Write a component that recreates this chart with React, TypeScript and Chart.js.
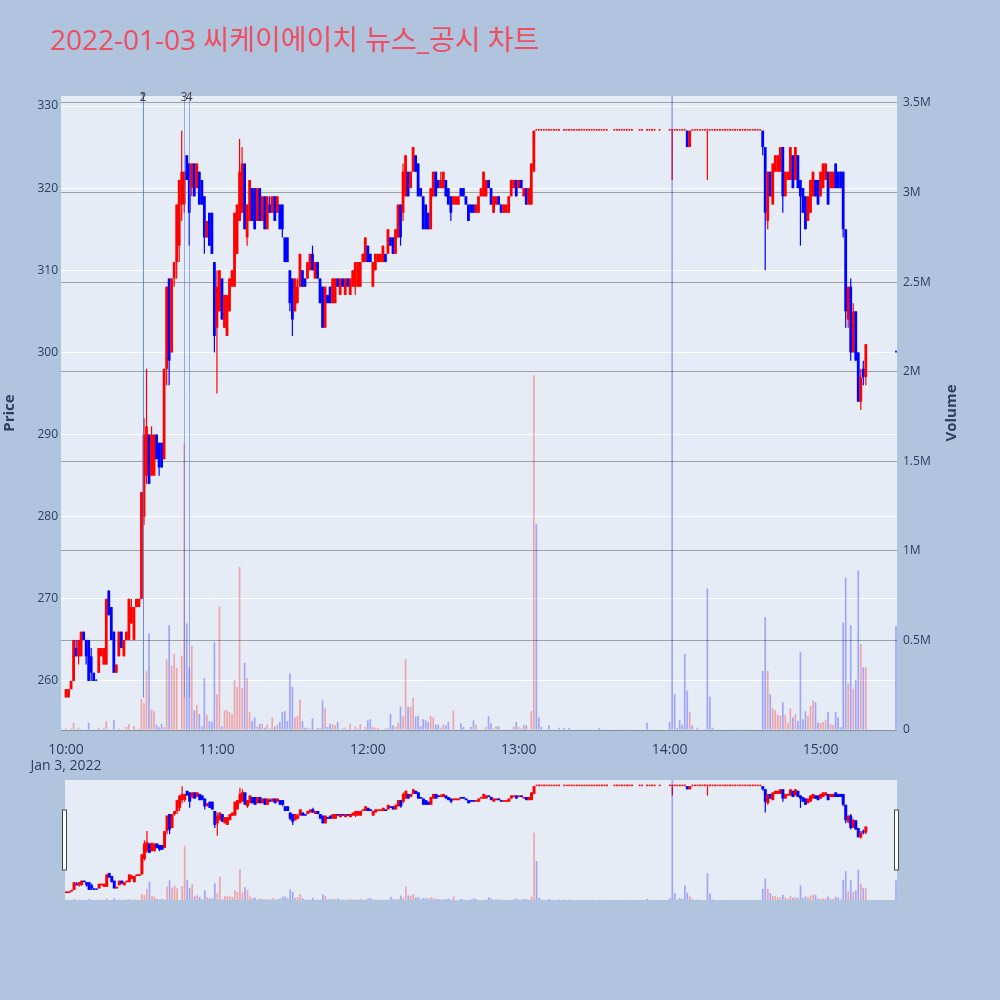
import { useEffect, useRef } from "react"
import { Chart, registerables } from "chart.js"

Chart.register(...registerables)

const FONT = '"Open Sans", "Noto Sans CJK KR", sans-serif'
const TEXT = "#2a3f5f"
const PLOT_BG = "#e5ecf6"
const PAGE_BG = "#b0c4de"
const UP = "#ff0000"
const DOWN = "#0000ff"
const VOL_UP = "rgba(255,0,0,0.3)"
const VOL_DOWN = "rgba(0,0,255,0.3)"

const title = "2022-01-03 씨케이에이치 뉴스_공시 차트"

// minutes after 10:00
const minutes = [
  0, 1, 2, 3, 4, 5, 6, 7, 8, 9,
  10, 11, 12, 13, 14, 15, 16, 17, 18, 19,
  20, 21, 22, 23, 24, 25, 26, 27, 28, 29,
  30, 31, 32, 33, 34, 35, 36, 37, 38, 39,
  40, 41, 42, 43, 44, 45, 46, 47, 48, 49,
  50, 51, 52, 53, 54, 55, 56, 57, 58, 59,
  60, 61, 62, 63, 64, 65, 66, 67, 68, 69,
  70, 71, 72, 73, 74, 75, 76, 77, 78, 79,
  80, 81, 82, 83, 84, 85, 86, 87, 88, 89,
  90, 91, 92, 93, 94, 95, 96, 97, 98, 99,
  100, 101, 102, 103, 104, 105, 106, 107, 108, 109,
  110, 111, 112, 113, 114, 115, 116, 117, 118, 119,
  120, 121, 122, 123, 124, 125, 126, 127, 128, 129,
  130, 131, 132, 133, 134, 135, 136, 137, 138, 139,
  140, 141, 142, 143, 144, 145, 146, 147, 148, 149,
  150, 151, 152, 153, 154, 155, 156, 157, 158, 159,
  160, 161, 162, 163, 164, 165, 166, 167, 168, 169,
  170, 171, 172, 173, 174, 175, 176, 177, 178, 179,
  180, 181, 182, 183, 184, 185, 186,
  // upper limit
  187, 188, 189, 190, 191, 192, 193, 194, 195, 196,
  198, 199, 200, 201, 202, 203, 204, 205, 206, 207,
  208, 209, 210, 211, 212, 213, 214, 215,
  218, 219, 220, 221, 222, 223, 224, 225,
  228, 229, 231, 232, 233, 234, 236,
  240, 241, 242, 243, 244, 245, 246, 247, 248, 249,
  250, 251, 252, 253, 254, 255, 256, 257, 258, 259,
  260, 261, 262, 263, 264, 265, 266, 267, 268, 269,
  270, 271, 272, 273, 274, 275, 276,
  // afternoon sell-off
  277, 278, 279, 280, 281, 282, 283, 284, 285, 286,
  287, 288, 289, 290, 291, 292, 293, 294, 295, 296,
  297, 298, 299, 300, 301, 302, 303, 304, 305, 306,
  307, 308, 309, 310, 311, 312, 313, 314, 315, 316,
  317, 318,
  // closing auction
  330,
]

const opens = [
  258, 258, 259, 260, 264, 263, 263, 266, 265, 265,
  263, 261, 260, 261, 263, 262, 262, 271, 269, 266,
  261, 263, 266, 263, 265, 265, 267, 265, 269, 269,
  270, 280, 285, 290, 285, 285, 290, 289, 289, 287,
  298, 309, 300, 309, 311, 313, 318, 318, 324, 323,
  320, 323, 320, 322, 321, 319, 314, 317, 317, 311,
  303, 305, 309, 303, 302, 305, 308, 308, 312, 316,
  317, 323, 314, 316, 320, 320, 316, 320, 316, 319,
  315, 318, 317, 319, 317, 318, 318, 314, 314, 310,
  309, 305, 306, 308, 310, 309, 309, 310, 312, 309,
  311, 309, 308, 303, 307, 308, 306, 306, 309, 307,
  309, 307, 309, 307, 308, 308, 308, 308, 311, 311,
  313, 312, 308, 310, 311, 311, 311, 312, 312, 314,
  314, 312, 314, 318, 317, 319, 322, 320, 322, 324,
  323, 320, 319, 318, 317, 315, 319, 322, 321, 320,
  320, 321, 320, 319, 318, 318, 318, 320, 320, 319,
  318, 318, 318, 317, 317, 319, 319, 319, 321, 320,
  317, 318, 319, 318, 317, 317, 317, 319, 320, 321,
  320, 321, 319, 320, 318, 318, 322,
  327, 327, 327, 327, 327, 327, 327, 327, 327, 327,
  327, 327, 327, 327, 327, 327, 327, 327, 327, 327,
  327, 327, 327, 327, 327, 327, 327, 327,
  327, 327, 327, 327, 327, 327, 327, 327,
  327, 327, 327, 327, 327, 327, 327,
  327, 327, 327, 327, 327, 327, 327, 327, 325, 327,
  327, 327, 327, 327, 327, 327, 327, 327, 327, 327,
  327, 327, 327, 327, 327, 327, 327, 327, 327, 327,
  327, 327, 327, 327, 327, 327, 327,
  327, 325, 316, 322, 318, 322, 322, 322, 325, 319,
  321, 321, 324, 321, 324, 321, 320, 319, 316, 317,
  319, 321, 321, 319, 320, 321, 322, 320, 320, 323,
  322, 322, 322, 315, 304, 308, 300, 305, 300, 294,
  298, 297,
  300,
]

const highs = [
  259, 259, 260, 265, 265, 265, 266, 266, 265, 265,
  264, 261, 260, 264, 264, 264, 270, 271, 269, 266,
  262, 266, 266, 265, 266, 270, 270, 269, 270, 270,
  283, 292, 298, 290, 291, 290, 290, 289, 289, 298,
  308, 309, 309, 311, 318, 321, 327, 322, 324, 323,
  323, 323, 323, 322, 321, 319, 316, 317, 317, 311,
  310, 310, 309, 307, 307, 309, 310, 317, 318, 326,
  325, 323, 318, 321, 320, 320, 320, 320, 319, 319,
  319, 319, 319, 319, 319, 318, 318, 314, 314, 310,
  309, 309, 309, 312, 310, 309, 311, 312, 313, 311,
  311, 309, 308, 308, 307, 308, 309, 309, 309, 309,
  309, 309, 309, 309, 310, 311, 311, 311, 312, 314,
  313, 312, 311, 312, 312, 312, 313, 312, 315, 314,
  314, 315, 318, 318, 323, 324, 322, 322, 325, 324,
  323, 320, 319, 318, 317, 320, 322, 322, 321, 322,
  322, 321, 320, 319, 319, 319, 319, 320, 320, 319,
  318, 318, 318, 318, 319, 320, 322, 321, 321, 320,
  319, 319, 319, 318, 318, 318, 319, 321, 321, 321,
  321, 321, 320, 320, 320, 323, 327,
  327, 327, 327, 327, 327, 327, 327, 327, 327, 327,
  327, 327, 327, 327, 327, 327, 327, 327, 327, 327,
  327, 327, 327, 327, 327, 327, 327, 327,
  327, 327, 327, 327, 327, 327, 327, 327,
  327, 327, 327, 327, 327, 327, 327,
  327, 327, 327, 327, 327, 327, 327, 327, 327, 327,
  327, 327, 327, 327, 327, 327, 327, 327, 327, 327,
  327, 327, 327, 327, 327, 327, 327, 327, 327, 327,
  327, 327, 327, 327, 327, 327, 327,
  327, 325, 322, 322, 323, 324, 324, 325, 325, 322,
  322, 325, 324, 325, 324, 321, 320, 319, 319, 321,
  322, 321, 321, 322, 323, 323, 322, 322, 322, 323,
  322, 322, 322, 315, 308, 309, 306, 305, 300, 298,
  299, 301,
  300,
]

const lows = [
  258, 258, 259, 260, 263, 262, 263, 265, 262, 260,
  260, 260, 260, 261, 263, 262, 262, 268, 265, 261,
  261, 263, 264, 263, 265, 265, 267, 265, 269, 269,
  270, 279, 284, 284, 285, 285, 287, 285, 286, 287,
  296, 296, 300, 308, 309, 311, 316, 317, 321, 313,
  319, 319, 320, 318, 318, 312, 314, 313, 312, 300,
  295, 305, 304, 303, 302, 305, 308, 308, 312, 316,
  317, 315, 313, 316, 316, 315, 316, 316, 316, 315,
  315, 317, 317, 316, 317, 315, 314, 311, 311, 305,
  302, 305, 306, 308, 308, 308, 309, 310, 310, 309,
  309, 306, 303, 303, 306, 306, 306, 306, 308, 307,
  308, 307, 308, 307, 308, 307, 308, 308, 311, 311,
  311, 311, 308, 310, 311, 311, 311, 311, 312, 313,
  312, 312, 314, 313, 316, 319, 319, 320, 322, 322,
  319, 319, 315, 315, 315, 315, 319, 319, 320, 320,
  320, 319, 318, 316, 318, 318, 318, 319, 319, 318,
  316, 317, 317, 317, 317, 319, 319, 319, 320, 318,
  317, 318, 318, 317, 317, 317, 317, 319, 320, 319,
  320, 320, 319, 318, 318, 318, 322,
  327, 327, 327, 327, 327, 327, 327, 327, 327, 327,
  327, 327, 327, 327, 327, 327, 327, 327, 327, 327,
  327, 327, 327, 327, 327, 327, 327, 327,
  327, 327, 327, 327, 327, 327, 327, 327,
  327, 327, 327, 327, 327, 327, 327,
  327, 321, 327, 327, 327, 327, 327, 325, 325, 327,
  327, 327, 327, 327, 327, 321, 327, 327, 327, 327,
  327, 327, 327, 327, 327, 327, 327, 327, 327, 327,
  327, 327, 327, 327, 327, 327, 327,
  324, 310, 315, 319, 318, 322, 322, 322, 317, 319,
  321, 321, 320, 321, 320, 313, 317, 315, 316, 317,
  319, 319, 318, 319, 320, 321, 318, 320, 320, 320,
  320, 320, 314, 303, 303, 299, 300, 299, 294, 293,
  296, 296,
  300,
]

const closes = [
  259, 259, 260, 265, 263, 265, 266, 265, 263, 260,
  261, 260, 260, 264, 264, 264, 270, 268, 265, 261,
  262, 266, 264, 265, 266, 270, 269, 269, 270, 270,
  283, 290, 291, 284, 290, 290, 287, 286, 286, 298,
  308, 299, 309, 311, 318, 321, 322, 322, 321, 317,
  323, 319, 323, 318, 318, 314, 316, 313, 312, 302,
  308, 310, 304, 307, 307, 309, 310, 317, 318, 322,
  323, 315, 318, 321, 316, 315, 320, 316, 319, 315,
  319, 317, 319, 316, 319, 315, 315, 311, 311, 306,
  304, 309, 308, 312, 308, 308, 311, 312, 310, 311,
  309, 306, 303, 308, 306, 306, 309, 309, 308, 309,
  308, 309, 308, 309, 310, 311, 311, 311, 312, 314,
  311, 311, 311, 312, 312, 312, 313, 311, 315, 313,
  312, 315, 318, 314, 322, 324, 319, 322, 325, 322,
  319, 319, 315, 315, 315, 320, 322, 319, 320, 321,
  322, 319, 318, 317, 319, 319, 319, 319, 319, 318,
  316, 317, 317, 318, 319, 320, 322, 321, 320, 318,
  319, 319, 318, 317, 318, 318, 319, 321, 321, 319,
  321, 320, 320, 318, 320, 323, 327,
  327, 327, 327, 327, 327, 327, 327, 327, 327, 327,
  327, 327, 327, 327, 327, 327, 327, 327, 327, 327,
  327, 327, 327, 327, 327, 327, 327, 327,
  327, 327, 327, 327, 327, 327, 327, 327,
  327, 327, 327, 327, 327, 327, 327,
  327, 327, 327, 327, 327, 327, 327, 325, 327, 327,
  327, 327, 327, 327, 327, 327, 327, 327, 327, 327,
  327, 327, 327, 327, 327, 327, 327, 327, 327, 327,
  327, 327, 327, 327, 327, 327, 327,
  325, 317, 322, 319, 323, 324, 324, 325, 319, 322,
  322, 325, 320, 325, 320, 319, 317, 315, 319, 321,
  322, 319, 318, 322, 323, 323, 318, 322, 322, 320,
  320, 320, 315, 305, 308, 300, 305, 299, 294, 297,
  297, 301,
  300,
]

// volume in millions of shares
const volumes = [
  0.01, 0.003, 0.008, 0.04, 0.004, 0.013, 0.004, 0.003, 0.004, 0.04,
  0.003, 0.003, 0.002, 0.013, 0.003, 0.013, 0.05, 0.004, 0.003, 0.055,
  0.004, 0.008, 0.003, 0.003, 0.017, 0.034, 0.003, 0.022, 0.004, 0.008,
  0.175, 0.15, 0.33, 0.54, 0.115, 0.105, 0.03, 0.015, 0.035, 0.015,
  0.395, 0.585, 0.36, 0.425, 0.347, 0.004, 0.414, 1.6, 0.595, 0.35,
  0.47, 0.11, 0.14, 0.09, 0.02, 0.29, 0.085, 0.05, 0.045, 0.49,
  0.2, 0.69, 0.02, 0.11, 0.11, 0.1, 0.09, 0.28, 0.24, 0.91,
  0.235, 0.375, 0.29, 0.1, 0.05, 0.07, 0.02, 0.035, 0.035, 0.013,
  0.032, 0.008, 0.07, 0.02, 0.03, 0.045, 0.1, 0.105, 0.05, 0.315,
  0.24, 0.07, 0.08, 0.17, 0.05, 0.013, 0.013, 0.008, 0.065, 0.004,
  0.011, 0.008, 0.165, 0.12, 0.017, 0.035, 0.03, 0.026, 0.045, 0.004,
  0.008, 0.013, 0.004, 0.035, 0.004, 0.02, 0.008, 0.032, 0.004, 0.017,
  0.055, 0.06, 0.017, 0.013, 0.013, 0.002, 0.004, 0.008, 0.013, 0.09,
  0.026, 0.017, 0.04, 0.13, 0.075, 0.395, 0.13, 0.13, 0.18, 0.075,
  0.08, 0.022, 0.06, 0.054, 0.045, 0.08, 0.07, 0.03, 0.03, 0.013,
  0.03, 0.026, 0.045, 0.004, 0.11, 0.002, 0.003, 0.037, 0.017, 0.002,
  0.004, 0.017, 0.054, 0.03, 0.002, 0.003, 0.002, 0.017, 0.076, 0.037,
  0.008, 0.022, 0.02, 0.003, 0.004, 0.002, 0.004, 0.003, 0.02, 0.045,
  0.017, 0.008, 0.03, 0.026, 0.004, 0.105, 1.98,
  1.15, 0.07, 0.017, 0.003, 0.003, 0.026, 0.003, 0.002, 0.003, 0.013,
  0.013, 0.002, 0.013, 0.002, 0.003, 0.002, 0.002, 0.003, 0.002, 0.002,
  0.004, 0.002, 0.002, 0.002, 0.011, 0.002, 0.003, 0.002,
  0.002, 0.003, 0.002, 0.002, 0.003, 0.002, 0.002, 0.003,
  0.002, 0.003, 0.04, 0.002, 0.003, 0.002, 0.002,
  0.045, 4.5, 0.2, 0.01, 0.055, 0.03, 0.425, 0.22, 0.1, 0.026,
  0.003, 0.013, 0.002, 0.002, 0.002, 0.79, 0.185, 0.013, 0.002, 0.003,
  0.002, 0.002, 0.003, 0.002, 0.002, 0.004, 0.003, 0.004, 0.002, 0.004,
  0.003, 0.004, 0.002, 0.004, 0.003, 0.002, 0.003,
  0.33, 0.63, 0.33, 0.2, 0.12, 0.11, 0.085, 0.08, 0.155, 0.085,
  0.04, 0.12, 0.07, 0.09, 0.05, 0.435, 0.06, 0.105, 0.08, 0.135,
  0.165, 0.155, 0.04, 0.04, 0.045, 0.055, 0.1, 0.035, 0.03, 0.1,
  0.07, 0.015, 0.6, 0.85, 0.26, 0.585, 0.23, 0.28, 0.89, 0.48,
  0.35, 0.35,
  0.58,
]

const xTickValues = [0, 60, 120, 180, 240, 300]
const xTickLabels = [["10:00", "Jan 3, 2022"], "11:00", "12:00", "13:00", "14:00", "15:00"]
const priceTicks = [260, 270, 280, 290, 300, 310, 320, 330]
const volumeTicks = [0, 0.5, 1, 1.5, 2, 2.5, 3, 3.5]

// disclosure / news markers
const newsLabels = ["1", "2", "3", "4"]
const newsMinutes = [30.6, 30.6, 47.0, 49.0]

function buildCandles() {
  const out: any[] = []
  let prevClose: number | undefined
  let prevUp = true
  for (let i = 0; i < minutes.length; i++) {
    const o = opens[i]
    const c = closes[i]
    let up: boolean
    if (c > o) up = true
    else if (c < o) up = false
    else if (prevClose === undefined) up = true
    else if (c > prevClose) up = true
    else if (c < prevClose) up = false
    else up = prevUp
    out.push({ x: minutes[i], o, h: highs[i], l: lows[i], c, v: volumes[i], up, volUp: c > o })
    prevClose = c
    prevUp = up
  }
  return out
}

const colorOf = (ctx: any) => (ctx.raw && ctx.raw.up ? UP : DOWN)

function makeDatasets(bodyWidth: number): any[] {
  const candles = buildCandles()
  const moving = candles.filter((k) => k.o !== k.c)
  const flat = candles.filter((k) => k.o === k.c)
  return [
    {
      yAxisID: "y1",
      data: candles.map((k) => ({ x: k.x, y: k.v, up: k.volUp })),
      backgroundColor: (ctx: any) => (ctx.raw && ctx.raw.up ? VOL_UP : VOL_DOWN),
      barThickness: 1.7,
      inflateAmount: 0,
      grouped: false,
    },
    {
      yAxisID: "y",
      data: moving.map((k) => ({ x: k.x, y: [k.o, k.c], up: k.up })),
      backgroundColor: colorOf,
      barThickness: bodyWidth,
      inflateAmount: 0,
      grouped: false,
    },
    {
      yAxisID: "y",
      data: flat.map((k) => ({ x: k.x, y: [k.o, k.c], up: k.up })),
      backgroundColor: colorOf,
      barThickness: 1.8,
      minBarLength: 1.6,
      inflateAmount: 0,
      grouped: false,
    },
    {
      yAxisID: "y",
      data: candles.map((k) => ({ x: k.x, y: [k.l, k.h], up: k.up })),
      backgroundColor: colorOf,
      barThickness: 1.2,
      inflateAmount: 0,
      grouped: false,
    },
  ]
}

const plotBackground = {
  id: "plotBackground",
  beforeDraw(chart: any) {
    const { ctx, chartArea } = chart
    ctx.save()
    ctx.fillStyle = PLOT_BG
    ctx.fillRect(chartArea.left, chartArea.top, chartArea.right - chartArea.left, chartArea.bottom - chartArea.top)
    ctx.restore()
  },
}

const newsMarkers = {
  id: "newsMarkers",
  afterDatasetsDraw(chart: any) {
    const { ctx, chartArea, scales } = chart
    const bottom = scales.y.getPixelForValue(Math.min(...lows))
    ctx.save()
    ctx.strokeStyle = "rgba(65,105,225,0.5)"
    ctx.lineWidth = 1
    newsMinutes.forEach((m) => {
      const x = Math.round(scales.x.getPixelForValue(m)) + 0.5
      ctx.beginPath()
      ctx.moveTo(x, chartArea.top)
      ctx.lineTo(x, bottom)
      ctx.stroke()
    })
    ctx.fillStyle = "#444"
    ctx.font = `12px ${FONT}`
    ctx.textAlign = "center"
    ctx.textBaseline = "alphabetic"
    newsMinutes.forEach((m, i) => {
      ctx.fillText(newsLabels[i], scales.x.getPixelForValue(m), chartArea.top + 5)
    })
    ctx.restore()
  },
}

const headings = {
  id: "headings",
  afterDraw(chart: any) {
    const { ctx, chartArea } = chart
    const midY = (chartArea.top + chartArea.bottom) / 2
    ctx.save()
    ctx.fillStyle = "rgb(239,77,97)"
    ctx.font = `28px ${FONT}`
    ctx.textAlign = "left"
    ctx.textBaseline = "alphabetic"
    ctx.fillText(title, 50, 50)

    ctx.fillStyle = TEXT
    ctx.font = `bold 15px ${FONT}`
    ctx.textAlign = "center"
    ctx.textBaseline = "middle"
    ctx.translate(10, midY)
    ctx.rotate(-Math.PI / 2)
    ctx.fillText("Price", 0, 0)
    ctx.restore()

    ctx.save()
    ctx.fillStyle = TEXT
    ctx.font = `bold 15px ${FONT}`
    ctx.textAlign = "center"
    ctx.textBaseline = "middle"
    ctx.translate(952, midY)
    ctx.rotate(-Math.PI / 2)
    ctx.fillText("Volume", 0, 0)
    ctx.restore()
  },
}

const sliderHandles = {
  id: "sliderHandles",
  afterDraw(chart: any) {
    const { ctx, chartArea } = chart
    const h = chartArea.bottom - chartArea.top
    const top = chartArea.top + h * 0.25
    const height = h * 0.5
    ctx.save()
    ctx.fillStyle = "#ffffff"
    ctx.strokeStyle = "#444"
    ctx.lineWidth = 1
    ;[chartArea.left - 2.5, chartArea.right - 2.5].forEach((x) => {
      ctx.fillRect(x, top, 4, height)
      ctx.strokeRect(x, top, 4, height)
    })
    ctx.restore()
  },
}

export default function App() {
  const mainRef = useRef<HTMLCanvasElement>(null)
  const navRef = useRef<HTMLCanvasElement>(null)
  const mainChart = useRef<Chart | null>(null)
  const navChart = useRef<Chart | null>(null)

  useEffect(() => {
    if (mainRef.current) {
      if (mainChart.current) mainChart.current.destroy()
      const tickFont = { family: FONT, size: 12 }
      mainChart.current = new Chart(mainRef.current, {
        type: "bar",
        data: { datasets: makeDatasets(2.8) },
        options: {
          responsive: false,
          animation: false,
          events: [],
          layout: { padding: { top: 96, left: 0, right: 0, bottom: 0 } },
          plugins: { legend: { display: false }, tooltip: { enabled: false } },
          scales: {
            x: {
              type: "linear",
              min: -2,
              max: 330.4,
              offset: false,
              grid: { display: false },
              border: { display: false },
              afterBuildTicks: (s: any) => {
                s.ticks = xTickValues.map((v) => ({ value: v }))
              },
              afterFit: (s: any) => {
                s.height = 45
              },
              ticks: {
                autoSkip: false,
                maxRotation: 0,
                padding: 4,
                color: TEXT,
                font: { family: FONT, size: 14, lineHeight: 1.15 },
                callback: (_v: any, i: number) => xTickLabels[i],
              },
            },
            y: {
              type: "linear",
              position: "left",
              min: 254.03,
              max: 331.22,
              grid: { color: "#ffffff", lineWidth: 1, drawTicks: false },
              border: { display: false },
              afterBuildTicks: (s: any) => {
                s.ticks = priceTicks.map((v) => ({ value: v }))
              },
              afterFit: (s: any) => {
                s.width = 61
              },
              ticks: { padding: 3, color: TEXT, font: tickFont },
            },
            y1: {
              type: "linear",
              position: "right",
              min: 0,
              max: 3.539,
              grid: { color: "rgba(100,100,100,0.55)", lineWidth: 1, drawTicks: false },
              border: { display: false },
              afterBuildTicks: (s: any) => {
                s.ticks = volumeTicks.map((v) => ({ value: v }))
              },
              afterFit: (s: any) => {
                s.width = 103
              },
              ticks: {
                padding: 6,
                color: TEXT,
                font: tickFont,
                callback: (v: any) => (v === 0 ? "0" : v + "M"),
              },
            },
          },
        } as any,
        plugins: [plotBackground, newsMarkers, headings],
      })
    }

    if (navRef.current) {
      if (navChart.current) navChart.current.destroy()
      navChart.current = new Chart(navRef.current, {
        type: "bar",
        data: { datasets: makeDatasets(3) },
        options: {
          responsive: false,
          animation: false,
          events: [],
          layout: { padding: { top: 0, left: 65, right: 103, bottom: 0 } },
          plugins: { legend: { display: false }, tooltip: { enabled: false } },
          scales: {
            x: { type: "linear", min: -0.6, max: 330.4, offset: false, display: false },
            y: { type: "linear", min: 253.5, max: 331, display: false },
            y1: { type: "linear", min: 0, max: 3.539, display: false },
          },
        } as any,
        plugins: [plotBackground, sliderHandles],
      })
    }

    return () => {
      if (mainChart.current) {
        mainChart.current.destroy()
        mainChart.current = null
      }
      if (navChart.current) {
        navChart.current.destroy()
        navChart.current = null
      }
    }
  }, [])

  return (
    <div style={{ position: "fixed", left: 0, top: 0, width: 1000, height: 1000, background: PAGE_BG }}>
      <canvas ref={mainRef} width={1000} height={775} style={{ position: "absolute", left: 0, top: 0 }} />
      <canvas ref={navRef} width={1000} height={120} style={{ position: "absolute", left: 0, top: 780 }} />
    </div>
  )
}
